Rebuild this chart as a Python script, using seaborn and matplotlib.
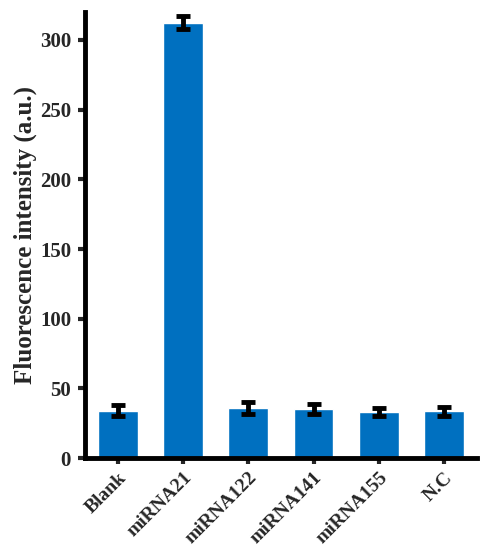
import matplotlib
matplotlib.use("Agg")
import matplotlib.pyplot as plt
import seaborn as sns
import pandas as pd

categories = ["Blank", "miRNA21", "miRNA122", "miRNA141", "miRNA155", "N.C"]
values = [34, 312.5, 36, 35.5, 33, 33.5]
errors = [4, 4.5, 4, 3.5, 3, 3.5]

sns.set_style("white")
plt.rcParams['font.family'] = ['Liberation Serif', 'DejaVu Serif']
plt.rcParams['font.weight'] = 'bold'

df = pd.DataFrame({"cat": categories, "val": values})

fig = plt.figure(figsize=(4.87, 5.5), dpi=100)
ax = fig.add_axes([0.1745, 0.167, 0.8045, 0.811])
sns.barplot(data=df, x="cat", y="val", color="#0070C0", saturation=1, width=0.61, ax=ax)
ax.errorbar(range(len(categories)), values, yerr=errors, fmt="none", ecolor="black",
            elinewidth=3.5, capsize=5, capthick=3.5)

ax.set_xlim(-0.5, 5.5)
ax.set_ylim(0, 320)
ax.set_yticks([0, 50, 100, 150, 200, 250, 300])
ax.set_xlabel("")
ax.set_ylabel("Fluorescence intensity (a.u.)", fontsize=18, fontweight="bold", labelpad=2)
for s in ["top", "right"]:
    ax.spines[s].set_visible(False)
for s in ["left", "bottom"]:
    ax.spines[s].set_linewidth(3.5)
    ax.spines[s].set_color("black")
ax.tick_params(axis="y", direction="out", length=5, width=3, labelsize=15, left=True, pad=5)
ax.tick_params(axis="x", direction="out", length=4, width=3, labelsize=14, bottom=True, pad=4)
plt.setp(ax.get_xticklabels(), rotation=45, ha="right", rotation_mode="anchor", fontweight="bold")
plt.setp(ax.get_yticklabels(), fontweight="bold")

fig.savefig("out.png", dpi=100)
